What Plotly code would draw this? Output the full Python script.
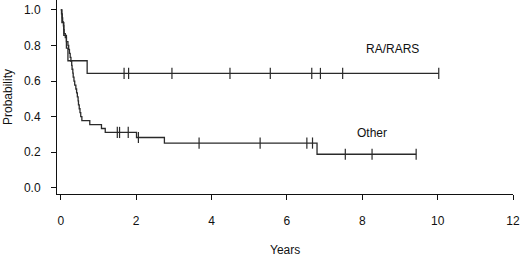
import plotly.graph_objects as go

# ---- data (years) ----
ra_event_times = [0.03, 0.08, 0.15, 0.19, 0.70]
ra_censor_times = [1.68, 1.80, 2.95, 4.49, 5.56, 6.66, 6.89, 7.48, 10.03]

other_event_times = [0.02, 0.04, 0.05, 0.07, 0.08, 0.09, 0.12, 0.15, 0.19, 0.21,
                     0.23, 0.25, 0.27, 0.29, 0.30, 0.32, 0.33, 0.35, 0.37, 0.40,
                     0.42, 0.44, 0.46, 0.47, 0.49, 0.51, 0.53, 0.56,
                     0.77, 1.08, 1.18, 2.01, 2.75, 6.80]
other_censor_times = [1.50, 1.56, 1.79, 2.06, 3.67, 5.29, 6.53, 6.68, 7.55, 8.26, 9.43]

x_ticks = [0, 2, 4, 6, 8, 10, 12]
y_ticks = [0.0, 0.2, 0.4, 0.6, 0.8, 1.0]
group_labels = ["RA/RARS", "Other"]
label_pos_x = [8.79, 8.26]
label_pos_y = [0.78, 0.31]


def kaplan_meier(events, censors):
    recs = sorted([(t, 1) for t in events] + [(t, 0) for t in censors],
                  key=lambda r: (r[0], -r[1]))
    n = len(recs)
    s = 1.0
    xs, ys = [0.0], [1.0]
    cx, cy = [], []
    for t, d in recs:
        if d == 1:
            s = s * (n - 1) / n
            xs.append(t)
            ys.append(s)
        else:
            cx.append(t)
            cy.append(s)
        n -= 1
    last = max(events + censors)
    xs.append(last)
    ys.append(s)
    return xs, ys, cx, cy


LINE = "#2a2a2a"
FONT = "Liberation Sans, Arial, Helvetica, sans-serif"

fig = go.Figure()
for ev, ce in [(ra_event_times, ra_censor_times), (other_event_times, other_censor_times)]:
    xs, ys, cx, cy = kaplan_meier(ev, ce)
    fig.add_trace(go.Scatter(x=xs, y=ys, mode="lines", line=dict(shape="hv", color=LINE, width=1.3),
                             showlegend=False, hoverinfo="skip"))
    fig.add_trace(go.Scatter(x=cx, y=cy, mode="markers",
                             marker=dict(symbol="line-ns", size=8, line=dict(color=LINE, width=1.2)),
                             showlegend=False, hoverinfo="skip"))

for name, lx, ly in zip(group_labels, label_pos_x, label_pos_y):
    fig.add_annotation(x=lx, y=ly, text=name, showarrow=False,
                       font=dict(family=FONT, size=12, color="#111"))

fig.add_annotation(xref="paper", yref="paper", x=0.5, y=0, yshift=-56, text="Years",
                   xanchor="center", yanchor="middle",
                   showarrow=False, font=dict(family=FONT, size=12, color="#111"))
fig.add_annotation(xref="paper", yref="paper", x=0, y=0.5, xshift=-49, text="Probability",
                   xanchor="center", yanchor="middle",
                   textangle=-90, showarrow=False, font=dict(family=FONT, size=12, color="#111"))

fig.update_xaxes(range=[-0.1, 12.0], tickvals=x_ticks, ticktext=[str(v) for v in x_ticks],
                 showline=True, linecolor="#111", linewidth=1, ticks="outside", ticklen=5,
                 tickcolor="#111", tickwidth=1, showgrid=False, zeroline=False,
                 ticklabelstandoff=11, ticklabeloverflow="allow",
                 tickfont=dict(family=FONT, size=12, color="#111"))
fig.update_yaxes(range=[-0.035, 1.056], tickvals=y_ticks, ticktext=[f"{v:.1f}" for v in y_ticks],
                 showline=True, linecolor="#111", linewidth=1, ticks="outside", ticklen=5,
                 tickcolor="#111", tickwidth=1, showgrid=False, zeroline=False,
                 ticklabelstandoff=8, ticklabeloverflow="allow",
                 tickfont=dict(family=FONT, size=12, color="#111"))

fig.update_layout(width=520, height=256, margin=dict(l=57, r=7, t=0, b=62, autoexpand=False),
                  plot_bgcolor="white", paper_bgcolor="white")

fig.write_html("out.html", config={"displayModeBar": False, "staticPlot": True},
               post_script="document.body.style.margin='0';document.body.style.overflow='hidden';")
